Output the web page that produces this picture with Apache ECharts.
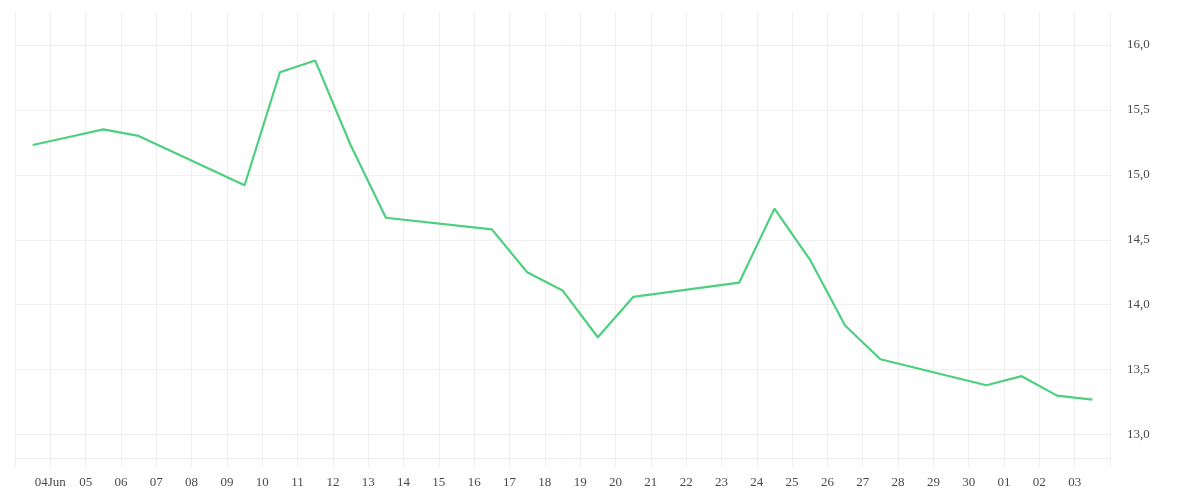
<!DOCTYPE html>
<html lang="en">
<head>
  <meta charset="UTF-8">
  <title>Price</title>
  <script src="https://cdn.jsdelivr.net/npm/echarts@6/dist/echarts.min.js"></script>
  <style>
    html, body { margin: 0; padding: 0; background: #fff; }
    #chart { width: 1200px; height: 500px; }
  </style>
</head>
<body>
<div id="chart"></div>
<script>
  // trading days (weekends skipped) and closing values
  const dates = [
    '2025-06-03', '2025-06-04', '2025-06-05', '2025-06-06',
    '2025-06-09', '2025-06-10', '2025-06-11', '2025-06-12', '2025-06-13',
    '2025-06-16', '2025-06-17', '2025-06-18', '2025-06-19', '2025-06-20',
    '2025-06-23', '2025-06-24', '2025-06-25', '2025-06-26', '2025-06-27',
    '2025-06-30', '2025-07-01', '2025-07-02', '2025-07-03'
  ];
  const values = [
    15.23, 15.29, 15.35, 15.30,
    14.92, 15.79, 15.88, 15.23, 14.67,
    14.58, 14.25, 14.11, 13.75, 14.06,
    14.17, 14.74, 14.35, 13.84, 13.58,
    13.38, 13.45, 13.30, 13.27
  ];
  // one label per day from 03 Jun to 04 Jul
  const tickLabels = [
    '', '04Jun', '05', '06', '07', '08', '09', '10', '11', '12', '13',
    '14', '15', '16', '17', '18', '19', '20', '21', '22', '23', '24',
    '25', '26', '27', '28', '29', '30', '01', '02', '03', ''
  ];

  const startDay = Date.UTC(2025, 5, 3);
  const DAY = 86400000;
  // each point sits in the middle of its day
  const points = dates.map((d, i) => {
    const p = d.split('-').map(Number);
    const offset = (Date.UTC(p[0], p[1] - 1, p[2]) - startDay) / DAY;
    return [offset + 0.5, values[i]];
  });

  const gridColor = '#efefef';
  const labelColor = '#4a4a4a';

  const chart = echarts.init(document.getElementById('chart'));
  chart.setOption({
    animation: false,
    grid: { left: 15, right: 90, top: 12, bottom: 42 },
    xAxis: {
      type: 'value',
      min: 0,
      max: tickLabels.length - 1,
      interval: 1,
      axisLine: { show: true, lineStyle: { color: gridColor } },
      axisTick: { show: true, length: 9, lineStyle: { color: gridColor } },
      splitLine: { show: true, lineStyle: { color: gridColor } },
      axisLabel: {
        margin: 18,
        color: labelColor,
        fontFamily: 'Liberation Serif, serif',
        fontSize: 13,
        formatter: v => tickLabels[Math.round(v)] || ''
      }
    },
    yAxis: {
      type: 'value',
      position: 'right',
      min: 12.82,
      max: 16.254,
      axisLine: { show: false },
      axisTick: { show: false },
      splitLine: {
        show: true,
        showMaxLine: false,
        lineStyle: { color: gridColor }
      },
      axisLabel: {
        margin: 17,
        color: labelColor,
        fontFamily: 'Liberation Serif, serif',
        fontSize: 13,
        showMinLabel: false,
        showMaxLabel: false,
        formatter: v => v.toFixed(1).replace('.', ',')
      }
    },
    series: [{
      type: 'line',
      data: points,
      symbol: 'none',
      lineStyle: { color: '#4cd07d', width: 2.2 }
    }]
  });
</script>
</body>
</html>
